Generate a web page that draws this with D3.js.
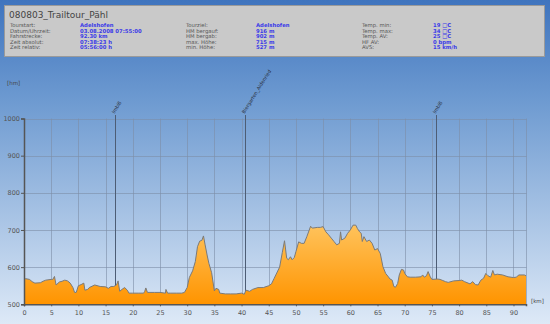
<!DOCTYPE html>
<html>
<head>
<meta charset="utf-8">
<script src="https://cdn.jsdelivr.net/npm/d3@7/dist/d3.min.js"></script>
<style>
  html, body { margin: 0; padding: 0; }
  svg { display: block; }
  text { font-family: "DejaVu Sans", Verdana, sans-serif; }
</style>
</head>
<body>
<svg id="chart" width="550" height="324"></svg>
<script>
// Elevation profile: distance [km] and altitude [hm]
const distKm = [0,0.3,1,1.5,2,3,3.5,4,5,5.3,5.6,5.9,6.5,7,7.5,8,8.5,9,9.3,9.6,10,10.5,11,11.2,11.7,12,13,14,15,15.5,16,16.5,17,17.3,17.6,18,18.5,19,19.3,20,21,22,22.2,22.4,22.7,23,24,25,26,26.1,26.4,27,28,29,29.5,30,30.4,31,31.5,31.9,32.3,32.7,33,33.3,33.7,34,34.5,35,35.3,35.8,36,37,38,39,40,40.5,40.8,41.5,42,43,44,45,45.5,46,47,47.5,47.9,48.3,48.6,49,49.3,49.7,50,50.5,51,51.5,52,52.7,53,53.5,54,54.5,55,55.5,56,56.5,57,57.5,58,58.2,58.4,59,59.5,60,60.5,61,61.3,61.7,62,62.2,62.5,63,63.5,64,64.5,65,65.5,66,66.5,67,67.3,67.7,68,68.3,68.7,69,69.4,69.8,70,70.5,71,72,73,73.3,73.6,74,74.3,74.7,75,76,76.5,77,77.5,78,79,80,80.5,81,82,82.5,83,83.5,84,84.5,84.9,85.3,85.8,86.2,86.5,87,88,89,90,90.5,91,92,92.3];
const altHm = [565,569,567,561,557,558,562,565,567,567,575,552,560,562,565,563,557,545,532,532,550,553,557,538,540,545,552,548,547,543,548,548,552,563,535,540,545,538,530,530,530,530,535,544,532,532,532,532,530,540,530,530,530,530,532,545,572,590,615,655,670,672,684,660,630,610,585,536,543,540,530,528,528,528,530,527,538,535,540,545,545,550,555,570,600,640,671,624,620,628,620,626,642,668,664,664,682,710,705,706,707,707,709,695,687,678,669,660,664,695,673,678,691,700,713,713,704,695,691,669,682,669,673,664,646,650,637,601,583,574,568,565,548,546,556,579,594,592,583,574,573,573,574,579,573,577,588,574,567,568,567,564,561,559,563,564,565,561,555,561,553,552,565,570,583,577,573,591,579,581,579,574,572,573,579,579,577];

// Waypoints along the route
const wpKm = [16.8, 40.7, 75.7];
const wpName = ["Imbiß", "Biergarten_Aidenried", "Imbiß"];

// Axis ticks
const xTicks = [0,5,10,15,20,25,30,35,40,45,50,55,60,65,70,75,80,85,90];
const yTicks = [500,600,700,800,900,1000];

// Tour summary table (three columns)
const col1Labels = ["Tourstart:", "Datum/Uhrzeit:", "Fahrstrecke:", "Zeit absolut:", "Zeit relativ:"];
const col1Values = ["Adelshofen", "03.08.2008 07:55:00", "92.30 km", "07:38:23 h", "05:56:00 h"];
const col2Labels = ["Tourziel:", "HM bergauf:", "HM bergab:", "max. Höhe:", "min. Höhe:"];
const col2Values = ["Adelshofen", "916 m", "902 m", "715 m", "527 m"];
const col3Labels = ["Temp. min:", "Temp. max:", "Temp. AV:", "HF AV:", "AVS:"];
const col3Values = ["19 \u25A1C", "34 \u25A1C", "25 \u25A1C", "0 bpm", "15 km/h"];

const title = "080803_Trailtour_Pähl";

const W = 550, H = 324;
const svg = d3.select("#chart");
const defs = svg.append("defs");

const bg = defs.append("linearGradient").attr("id", "bg").attr("x1", 0).attr("y1", 0).attr("x2", 0).attr("y2", 1);
bg.append("stop").attr("offset", "0%").attr("stop-color", "#3f74be");
bg.append("stop").attr("offset", "30%").attr("stop-color", "#6c99d0");
bg.append("stop").attr("offset", "100%").attr("stop-color", "#dde9f7");

const fillG = defs.append("linearGradient").attr("id", "fillG")
  .attr("gradientUnits", "userSpaceOnUse").attr("x1", 0).attr("y1", 225).attr("x2", 0).attr("y2", 304);
fillG.append("stop").attr("offset", "0%").attr("stop-color", "#ffc35c");
fillG.append("stop").attr("offset", "100%").attr("stop-color", "#ff9400");

svg.append("rect").attr("width", W).attr("height", H).attr("fill", "url(#bg)");

// Summary panel
svg.append("rect").attr("x", 4.5).attr("y", 5.5).attr("width", 540).attr("height", 51)
  .attr("fill", "#c9c9c9").attr("stroke", "#9a9a9a").attr("stroke-width", 1);
svg.append("text").attr("x", 9).attr("y", 18).attr("font-size", 9).attr("fill", "#444")
  .text(title);

const rowY = [27, 32.6, 38.2, 43.8, 49.4];
const cols = [
  {lx: 10, vx: 80, labels: col1Labels, values: col1Values},
  {lx: 186, vx: 256, labels: col2Labels, values: col2Values},
  {lx: 362, vx: 433, labels: col3Labels, values: col3Values}
];
cols.forEach(c => {
  const g = svg.append("g");
  g.selectAll("text.l").data(c.labels).join("text")
    .attr("x", c.lx).attr("y", (d, i) => rowY[i]).attr("font-size", 5.3).attr("fill", "#555").text(d => d);
  g.selectAll("text.v").data(c.values).join("text")
    .attr("x", c.vx).attr("y", (d, i) => rowY[i]).attr("font-size", 5.3).attr("font-weight", "bold")
    .attr("fill", "#3a3ae8").text(d => d);
});

// Scales
const x = d3.scaleLinear().domain([0, 92.3]).range([24, 526]);
const y = d3.scaleLinear().domain([500, 1000]).range([304.3, 118.5]);

// Grid
const grid = svg.append("g").attr("stroke", "#7d8ea6").attr("stroke-opacity", 0.6).attr("stroke-width", 1);
grid.selectAll("line.v").data(xTicks.filter(d => d > 0)).join("line")
  .attr("x1", d => Math.round(x(d)) + 0.5).attr("x2", d => Math.round(x(d)) + 0.5)
  .attr("y1", y(1000)).attr("y2", y(500));
grid.append("line").attr("x1", x(92.3) + 0.5).attr("x2", x(92.3) + 0.5).attr("y1", y(1000)).attr("y2", y(500));
grid.selectAll("line.h").data(yTicks).join("line")
  .attr("x1", x(0)).attr("x2", x(92.3) + 0.5)
  .attr("y1", d => Math.round(y(d)) + 0.5).attr("y2", d => Math.round(y(d)) + 0.5);

// Waypoint markers
const wp = svg.append("g");
wpKm.forEach((km, i) => {
  const px = Math.round(x(km)) + 0.5;
  wp.append("line").attr("x1", px).attr("x2", px).attr("y1", 115).attr("y2", y(500))
    .attr("stroke", "#4d5d75").attr("stroke-width", 1);
  wp.append("text").attr("transform", `translate(${px - 1},${114}) rotate(-58)`)
    .attr("font-size", 4.8).attr("fill", "#2a3140").text(wpName[i]);
});

// Elevation area
const pts = distKm.map((d, i) => [d, altHm[i]]);
const area = d3.area().x(d => x(d[0])).y0(y(500)).y1(d => y(d[1]));
const line = d3.line().x(d => x(d[0])).y(d => y(d[1]));
svg.append("path").datum(pts).attr("d", area).attr("fill", "url(#fillG)");
svg.append("path").datum(pts).attr("d", line).attr("fill", "none").attr("stroke", "#7a7a7a").attr("stroke-width", 1);

// Axes
const yAxis = d3.axisLeft(y).tickValues(yTicks).tickSize(3).tickFormat(d3.format("d"));
const gy = svg.append("g").attr("transform", `translate(${x(0)},0)`).call(yAxis);
gy.select(".domain").attr("stroke", "#555").attr("stroke-width", 1.5);
gy.selectAll(".tick line").attr("stroke", "#555");
gy.selectAll(".tick text").attr("font-size", 6.5).attr("fill", "#555").attr("x", -4)
  .attr("font-family", "DejaVu Sans, sans-serif");

const xAxis = d3.axisBottom(x).tickValues(xTicks).tickSize(2).tickFormat(d3.format("d"));
const gx = svg.append("g").attr("transform", `translate(0,${y(500)})`).call(xAxis);
gx.select(".domain").attr("stroke", "#555").attr("stroke-width", 1.5);
gx.selectAll(".tick line").attr("stroke", "#555");
gx.selectAll(".tick text").attr("font-size", 6.5).attr("fill", "#555").attr("y", 6)
  .attr("font-family", "DejaVu Sans, sans-serif");

svg.append("text").attr("x", 7).attr("y", 85).attr("font-size", 5.5).attr("fill", "#444").text("[hm]");
svg.append("text").attr("x", 531).attr("y", 303).attr("font-size", 5.5).attr("fill", "#444").text("[km]");
</script>
</body>
</html>
